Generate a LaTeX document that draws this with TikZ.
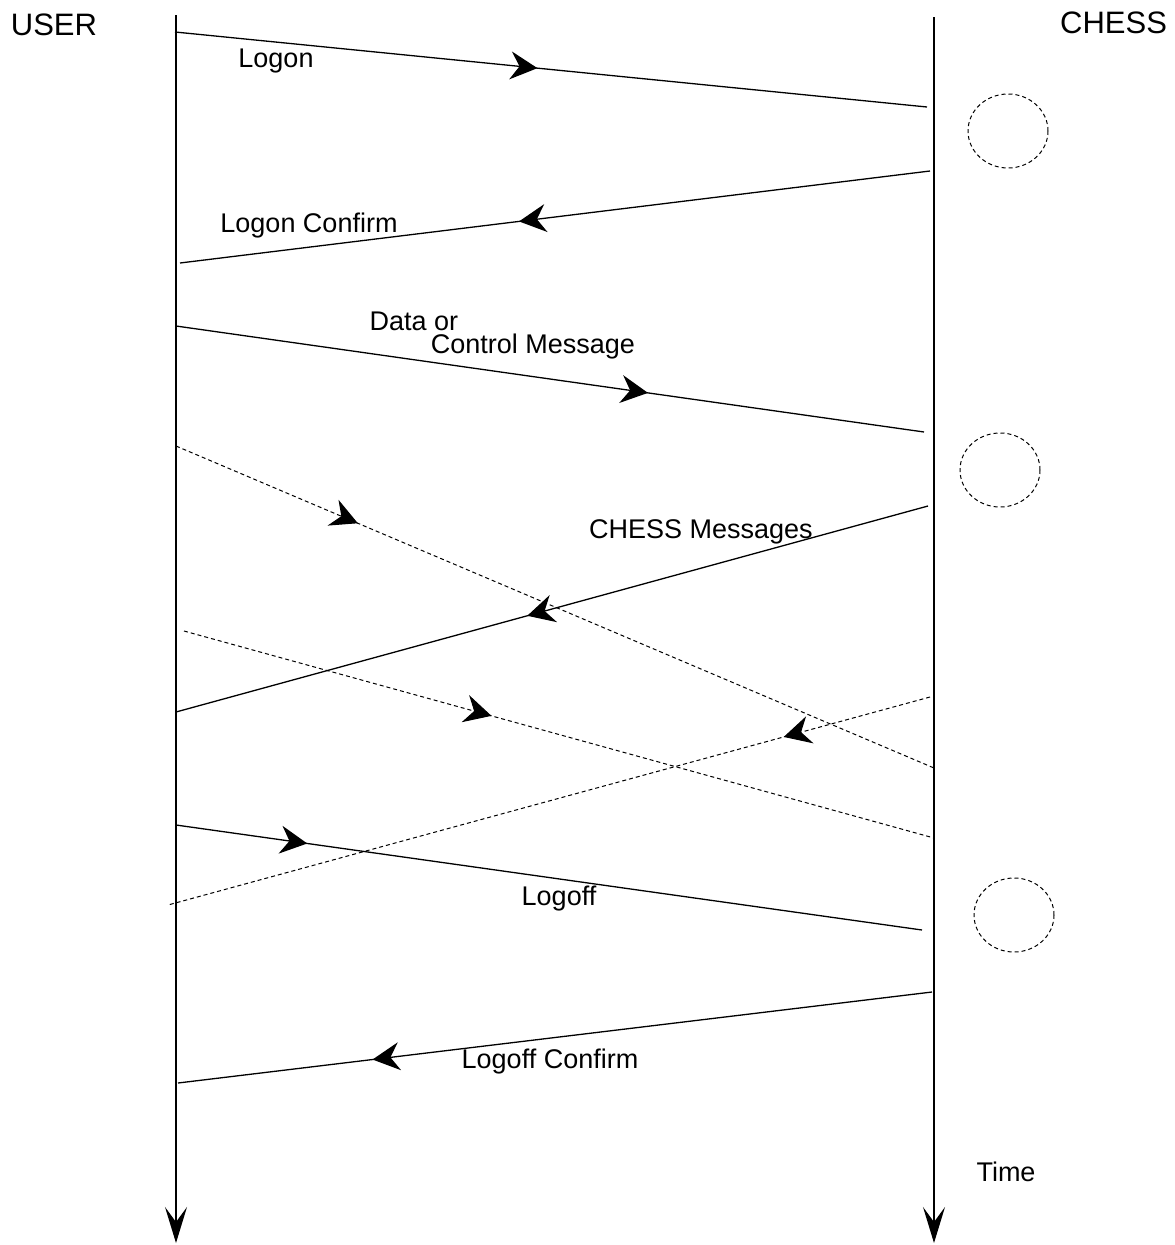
\documentclass[tikz,border=0pt]{standalone}
\usepackage{fontspec}
\setmainfont{Liberation Sans}
\usetikzlibrary{arrows.meta,decorations.markings,shapes.geometric}
\begin{document}
\begin{tikzpicture}[x=1pt,y=-1pt,
  lifeline/.style={line width=1.3pt,-{Stealth[length=36pt,width=22pt,inset=15pt]}},
  msg/.style={line width=1.3pt,postaction={decorate},
    decoration={markings,mark=at position #1 with {\arrow{Stealth[length=27pt,width=28pt,inset=9pt]}}}},
  dmsg/.style={msg=#1,line width=1pt,dash pattern=on 4pt off 3pt},
  lbl/.style={font=\fontsize{27}{30}\selectfont,inner sep=0pt},
  hdr/.style={font=\fontsize{31}{34}\selectfont,inner sep=0pt},
  proc/.style={draw,line width=1pt,dash pattern=on 4pt off 3pt,ellipse,minimum width=80pt,minimum height=74pt,inner sep=0pt}]
\useasboundingbox (0,0) rectangle (1175,1245);
% lifelines
\coordinate (uTop) at (176,15);
\coordinate (uBot) at (176,1243);
\coordinate (cTop) at (934,17);
\coordinate (cBot) at (934,1243);
\draw[lifeline] (uTop) -- (uBot);
\draw[lifeline] (cTop) -- (cBot);
% headers
\node[hdr] (user) at (54,25) {USER};
\node[hdr,anchor=west] (chess) at (1060,23) {CHESS};
\node[lbl] (time) at (1006,1172) {Time};
% processing circles
\node[proc] (p1) at (1008,131) {};
\node[proc] (p2) at (1000,470) {};
\node[proc] (p3) at (1014,915) {};
% message end points
\coordinate (a1) at (175,32);  \coordinate (b1) at (927,107);
\coordinate (a2) at (930,171); \coordinate (b2) at (180,263);
\coordinate (a3) at (176,326); \coordinate (b3) at (924,432);
\coordinate (a4) at (176,446); \coordinate (b4) at (934,768);
\coordinate (a5) at (928,506); \coordinate (b5) at (176,712);
\coordinate (a6) at (184,631); \coordinate (b6) at (934,838);
\coordinate (a7) at (930,697); \coordinate (b7) at (168,905);
\coordinate (a8) at (176,825); \coordinate (b8) at (922,930);
\coordinate (a9) at (932,992); \coordinate (b9) at (178,1083);
% messages
\draw[msg=0.482] (a1) -- (b1);
\draw[msg=0.548] (a2) -- (b2);
\draw[msg=0.631] (a3) -- (b3);
\draw[dmsg=0.24] (a4) -- (b4);
\draw[msg=0.533] (a5) -- (b5);
\draw[dmsg=0.41] (a6) -- (b6);
\draw[dmsg=0.192] (a7) -- (b7);
\draw[msg=0.176] (a8) -- (b8);
\draw[msg=0.742] (a9) -- (b9);
% message labels
\node[lbl] (l1) at (276,61) {Logon};
\node[lbl] (l2) at (309,226) {Logon Confirm};
\node[lbl] (l3a) at (414,321) {Data or};
\node[lbl] (l3b) at (533,347) {Control Message};
\node[lbl] (l5) at (701,532) {CHESS Messages};
\node[lbl] (l8) at (559,899) {Logoff};
\node[lbl] (l9) at (550,1062) {Logoff Confirm};
\end{tikzpicture}
\end{document}
